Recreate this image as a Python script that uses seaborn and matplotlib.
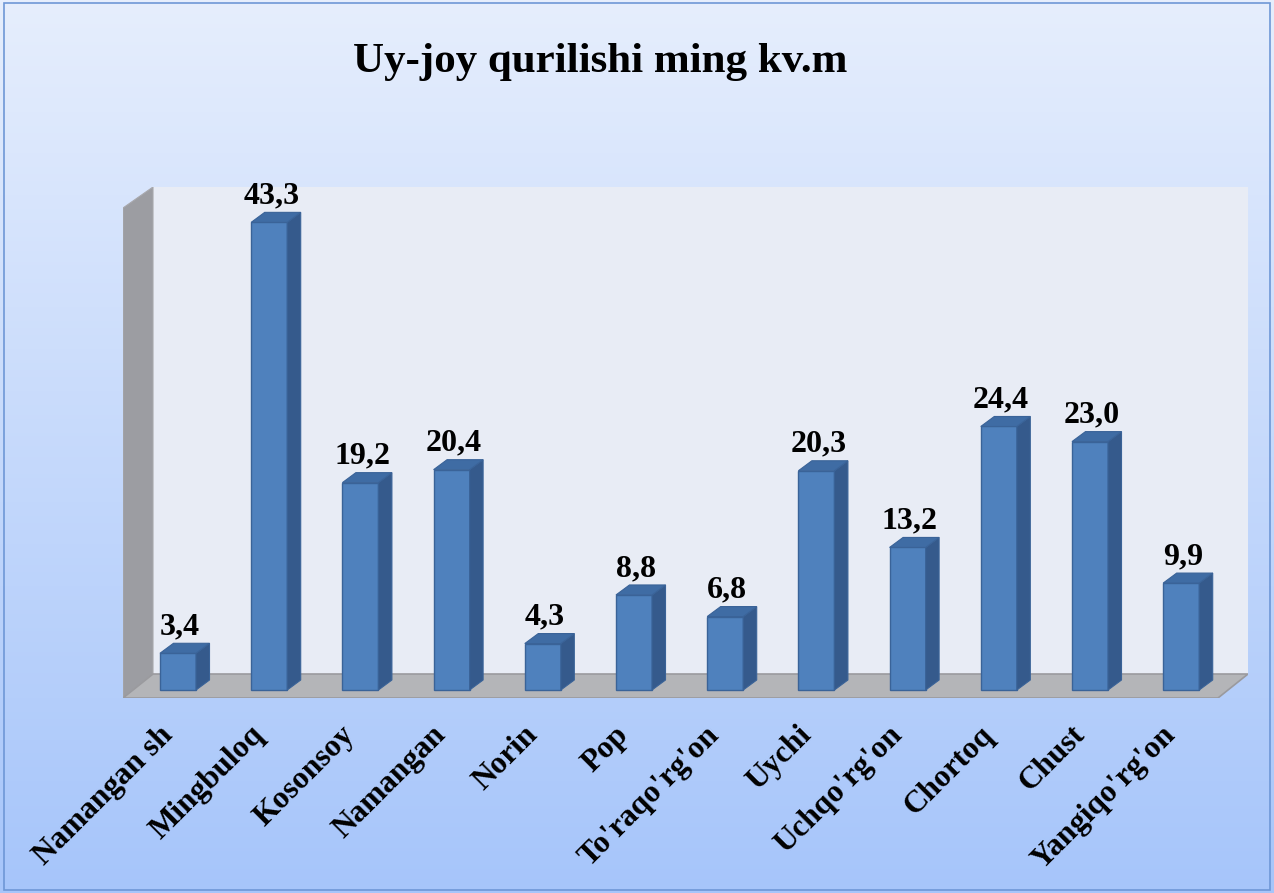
import numpy as np
import pandas as pd
import matplotlib
matplotlib.use("Agg")
import matplotlib.pyplot as plt
import matplotlib.transforms as mtransforms
from matplotlib.patches import Polygon, Rectangle
import seaborn as sns

categories = ["Namangan sh", "Mingbuloq", "Kosonsoy", "Namangan", "Norin", "Pop",
              "To'raqo'rg'on", "Uychi", "Uchqo'rg'on", "Chortoq", "Chust", "Yangiqo'rg'on"]
values = [3.4, 43.3, 19.2, 20.4, 4.3, 8.8, 6.8, 20.3, 13.2, 24.4, 23.0, 9.9]
value_labels = ["3,4", "43,3", "19,2", "20,4", "4,3", "8,8", "6,8", "20,3", "13,2", "24,4", "23,0", "9,9"]
title = "Uy-joy qurilishi ming kv.m"

df = pd.DataFrame({"category": categories, "value": values})

sns.set_theme(style="white")
plt.rcParams["font.family"] = ["Liberation Serif", "DejaVu Serif"]
plt.rcParams["text.color"] = "black"
plt.rcParams["xtick.color"] = "black"

W, H = 1274, 893
fig = plt.figure(figsize=(W / 100, H / 100), dpi=100)

# gradient background
bg = fig.add_axes([0, 0, 1, 1], zorder=-10)
grad = np.linspace(0, 1, 256).reshape(-1, 1)
top_c = np.array([0xE6, 0xEE, 0xFD]) / 255
bot_c = np.array([0xA6, 0xC5, 0xFA]) / 255
img = top_c[None, None, :] * (1 - grad[:, :, None]) + bot_c[None, None, :] * grad[:, :, None]
bg.imshow(img, aspect="auto", extent=[0, 1, 0, 1])
bg.add_patch(Rectangle((0.003, 0.003), 0.994, 0.994, fill=False, edgecolor="#6E97D6", lw=1.2))
bg.set_xlim(0, 1); bg.set_ylim(0, 1)
bg.axis("off")

# plot area in pixels
L, R, T, B = 123, 1248, 187, 698
ax = fig.add_axes([L / W, (H - B) / H, (R - L) / W, (B - T) / H])
ax.set_facecolor("none")

# walls (axes coords)
wx = 30 / (R - L)
wy = (B - 674) / (B - T)
ltop = (B - 208) / (B - T)
ax.add_patch(Rectangle((wx, wy), 1 - wx, 1 - wy, transform=ax.transAxes,
                       facecolor="#E8ECF5", edgecolor="none", zorder=0))
ax.add_patch(Polygon([(0, 0), (0, ltop), (wx, 1), (wx, wy)], closed=True, transform=ax.transAxes,
                     facecolor="#9C9DA2", edgecolor="#A8A8AC", lw=0.8, zorder=0.5))
ax.add_patch(Polygon([(0, 0), (wx, wy), (1, wy), (1 - wx, 0)], closed=True, transform=ax.transAxes,
                     facecolor="#B4B5B8", edgecolor="#9A9A9E", lw=1.2, zorder=0.5))

front = "#4F81BD"
side = "#355A8C"
topc = "#3F6CA4"
edge = "#3A6398"

sns.barplot(data=df, x="category", y="value", color=front, width=0.395,
            saturation=1, edgecolor=edge, linewidth=1.0, ax=ax, zorder=2)

px_per_x = 91.2
px_per_y = 10.8
ax.set_xlim((L - 178) / px_per_x, (R - 178) / px_per_x)
ax.set_ylim(-(B - 690) / px_per_y, (690 - T) / px_per_y)

dx = 13.5 / px_per_x
dy = 10.0 / px_per_y
bars = [pp for pp in ax.patches if isinstance(pp, Rectangle) and pp.get_zorder() == 2]
for p in bars:
    x0 = p.get_x(); w = p.get_width(); h = p.get_height()
    x1 = x0 + w
    ax.add_patch(Polygon([(x1, 0), (x1 + dx, dy), (x1 + dx, h + dy), (x1, h)], closed=True,
                         facecolor=side, edgecolor=edge, lw=0.8, zorder=2))
    ax.add_patch(Polygon([(x0, h), (x0 + dx, h + dy), (x1 + dx, h + dy), (x1, h)], closed=True,
                         facecolor=topc, edgecolor=edge, lw=0.8, zorder=2))

for i, (v, lab) in enumerate(zip(values, value_labels)):
    ax.text(i + 2 / px_per_x, v + dy + 9 / px_per_y, lab, ha="center", va="baseline",
            fontsize=23, fontweight="bold", color="black", zorder=3)

ax.set_xlabel(""); ax.set_ylabel("")
ax.set_yticks([])
ax.set_xticks(range(len(categories)))
ax.set_xticklabels(categories, rotation=45, ha="right", rotation_mode="anchor",
                   fontsize=22.5, fontweight="bold", color="black")
ax.tick_params(axis="x", length=0, pad=16)
offset = mtransforms.ScaledTranslation(-20 / 100, 0, fig.dpi_scale_trans)
for t in ax.get_xticklabels():
    t.set_transform(t.get_transform() + offset)
for s in ax.spines.values():
    s.set_visible(False)

fig.text(600 / W, (H - 72) / H, title, ha="center", va="baseline",
         fontsize=31, fontweight="bold", color="black")

fig.savefig("out.png", dpi=100)
